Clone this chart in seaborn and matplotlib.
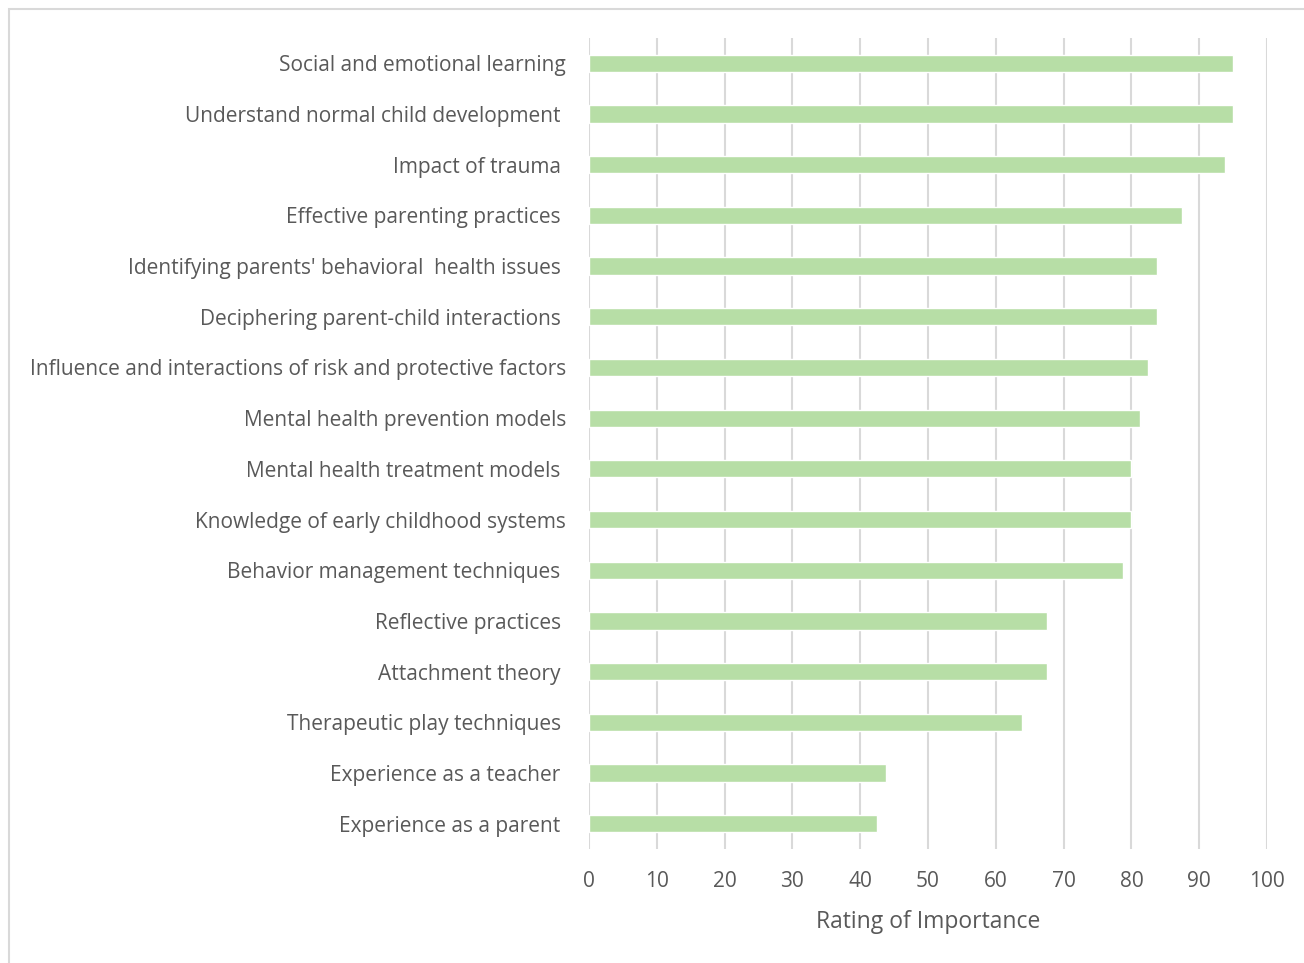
import matplotlib
matplotlib.use("Agg")
import matplotlib.pyplot as plt
import seaborn as sns
import pandas as pd
from matplotlib.patches import Rectangle

categories = [
    "Social and emotional learning",
    "Understand normal child development ",
    "Impact of trauma ",
    "Effective parenting practices ",
    "Identifying parents' behavioral  health issues ",
    "Deciphering parent-child interactions ",
    "Influence and interactions of risk and protective factors",
    "Mental health prevention models",
    "Mental health treatment models ",
    "Knowledge of early childhood systems",
    "Behavior management techniques ",
    "Reflective practices ",
    "Attachment theory ",
    "Therapeutic play techniques ",
    "Experience as a teacher ",
    "Experience as a parent ",
]
ratings = [95.0, 95.0, 93.8, 87.5, 83.8, 83.8, 82.5, 81.3, 80.0, 80.0, 78.8,
           67.5, 67.5, 63.8, 43.8, 42.5]
x_ticks = [0, 10, 20, 30, 40, 50, 60, 70, 80, 90, 100]
x_label = "Rating of Importance"

df = pd.DataFrame({"category": categories, "rating": ratings})

sns.set_theme(style="white")
plt.rcParams["font.family"] = ["Open Sans", "DejaVu Sans"]

W, H = 1304, 963
fig = plt.figure(figsize=(W / 100, H / 100), dpi=100)
fig.patch.set_facecolor("white")
ax = fig.add_axes([589 / W, 1 - 849 / H, (1267 - 589) / W, (849 - 38) / H])

sns.barplot(data=df, x="rating", y="category", orient="h", color="#B7DEA6",
            saturation=1, width=0.34, ax=ax, zorder=3)

ax.set_xlim(0, 100)
ax.set_xticks(x_ticks)
ax.set_xticklabels([str(t) for t in x_ticks])
ax.grid(axis="x", color="#D9D9D9", linewidth=1.5, zorder=0)
ax.set_axisbelow(True)
for s in ax.spines.values():
    s.set_visible(False)
ax.tick_params(axis="both", length=0, colors="#595959", labelsize=15)
ax.tick_params(axis="y", pad=16.5)
ax.tick_params(axis="x", pad=15.5)
ax.set_ylabel("")
ax.set_xlabel(x_label, fontsize=16.5, color="#595959", labelpad=13.5)

fig.patches.append(Rectangle((9 / W, -0.01), 1.1, 1 - 9 / H + 0.01,
                             transform=fig.transFigure, fill=False,
                             edgecolor="#D9D9D9", linewidth=1.5))

fig.savefig("out.png", dpi=100)
